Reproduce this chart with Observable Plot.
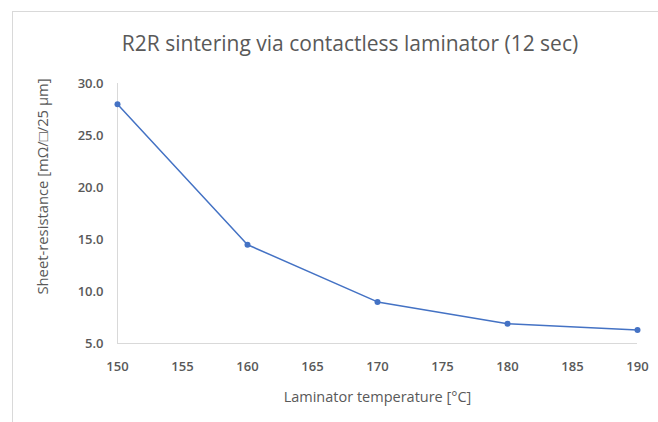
<!DOCTYPE html>
<html>
<head>
<meta charset="utf-8">
<script src="https://cdn.jsdelivr.net/npm/d3@7"></script>
<script src="https://cdn.jsdelivr.net/npm/@observablehq/plot@0.6"></script>
<style>
  body { margin: 0; background: #fff; width: 658px; height: 422px; overflow: hidden; position: relative; font-family: "Open Sans", sans-serif; }
  #frame { position: absolute; left: 12px; top: 11px; width: 646px; height: 411px; border-top: 1px solid #d9d9d9; border-left: 1px solid #d9d9d9; box-sizing: border-box; }
  #title { position: absolute; left: 0; width: 700px; top: 29px; text-align: center; font-size: 21px; color: #595959; font-family: "Open Sans", sans-serif; }
  #chart { position: absolute; left: 0; top: 60px; }
</style>
</head>
<body>
<div id="frame"></div>
<div id="title">R2R sintering via contactless laminator (12 sec)</div>
<div id="chart"></div>
<script>
const temperatures = [150, 160, 170, 180, 190];
const resistance = [28.0, 14.5, 9.0, 6.9, 6.3];
const xTicks = [150, 155, 160, 165, 170, 175, 180, 185, 190];
const yTicks = [5, 10, 15, 20, 25, 30];
const xLabel = "Laminator temperature [°C]";
const yLabel = "Sheet-resistance [mΩ/□/25 µm]";

const data = temperatures.map((t, i) => ({t, r: resistance[i]}));
const blue = "#4472C4";
const grey = "#595959";

const plot = Plot.plot({
  width: 658,
  height: 362,
  marginLeft: 117,
  marginRight: 21,
  marginTop: 23,
  marginBottom: 79,
  style: { fontFamily: "Open Sans, sans-serif", color: grey, background: "transparent", overflow: "visible" },
  x: { domain: [150, 190] },
  y: { domain: [5, 30] },
  marks: [
    Plot.ruleX([150], { stroke: "#d9d9d9", strokeWidth: 1 }),
    Plot.ruleY([5], { stroke: "#d9d9d9", strokeWidth: 1 }),
    Plot.axisX({ ticks: xTicks, tickSize: 0, tickPadding: 18, fontSize: 13, fontWeight: 600, fill: grey, label: null }),
    Plot.axisY({ ticks: yTicks, tickSize: 0, tickPadding: 14, fontSize: 13, fontWeight: 600, fill: grey, tickFormat: d => d.toFixed(1), label: null }),
    Plot.text([xLabel], { frameAnchor: "bottom", dy: 58, fontSize: 14.5, fill: grey, text: d => d }),
    Plot.text([yLabel], { frameAnchor: "left", textAnchor: "middle", dx: -74, dy: -27, rotate: -90, fontSize: 14.8, fill: grey, text: d => d }),
    Plot.line(data, { x: "t", y: "r", stroke: blue, strokeWidth: 1.5 }),
    Plot.dot(data, { x: "t", y: "r", fill: blue, r: 3 })
  ]
});
document.getElementById("chart").appendChild(plot);
</script>
</body>
</html>
